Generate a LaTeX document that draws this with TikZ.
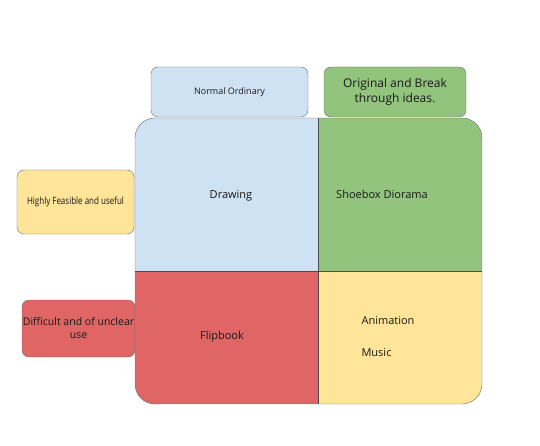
\documentclass[tikz,border=0pt]{standalone}
\usepackage{fontspec}
\setmainfont{Open Sans}
\usepackage{graphicx}

\definecolor{paleblue}{RGB}{207,226,243}
\definecolor{midgreen}{RGB}{147,196,125}
\definecolor{softred}{RGB}{224,102,102}
\definecolor{paleyellow}{RGB}{255,229,153}
\definecolor{edgegray}{RGB}{110,110,110}

\begin{document}
\begin{tikzpicture}[
    x=1pt, y=-1pt,
    headbox/.style={
        draw=edgegray,
        rounded corners=7pt,
        inner sep=0pt,
        align=center,
        text=black!90
    },
    quadlabel/.style={
        font=\fontsize{11}{13}\selectfont,
        text=black!90
    }
]
\useasboundingbox (0,0) rectangle (540,446);

% ============ COLUMN HEADERS ============
\node[headbox, fill=paleblue, minimum width=157pt, minimum height=50pt,
      font=\fontsize{9}{11}\selectfont] (ordinary) at (229.5,92) {Normal Ordinary};
\node[headbox, fill=midgreen, minimum width=142pt, minimum height=50pt,
      font=\fontsize{12}{15}\selectfont] (original) at (395,92)
      {Original and Break\\through ideas.};

% ============ ROW HEADERS ============
\node[headbox, fill=paleyellow, minimum width=117pt, minimum height=64pt,
      font=\fontsize{10}{12}\selectfont] (feasible) at (75.5,202)
      {\scalebox{0.8}[1]{Highly Feasible and useful}};
\node[headbox, fill=softred, minimum width=113pt, minimum height=57pt,
      font=\fontsize{10.5}{13}\selectfont] (difficult) at (78.5,328.5)
      {Difficult and of unclear\\use};

% ============ QUADRANTS ============
\begin{scope}
    \clip[rounded corners=20pt] (135,118) rectangle (482,404);
    \fill[paleblue] (135,118) rectangle (318,271);
    \fill[midgreen] (318,118) rectangle (482,271);
    \fill[softred] (135,271) rectangle (318,404);
    \fill[paleyellow] (318,271) rectangle (482,404);
\end{scope}
\draw[edgegray, rounded corners=20pt] (135,118) rectangle (482,404);
\draw[black!70] (318,118) -- (318,404);
\draw[black!70] (135,271) -- (482,271);

% Quadrant labels
\node[quadlabel] (drawing) at (231,196) {Drawing};
\node[quadlabel] (shoebox) at (382,194) {Shoebox Diorama};
\node[quadlabel] (flipbook) at (222,337) {Flipbook};
\node[quadlabel, anchor=west] (animation) at (358,321) {Animation};
\node[quadlabel, anchor=west] (music) at (358,353) {Music};

\end{tikzpicture}
\end{document}
